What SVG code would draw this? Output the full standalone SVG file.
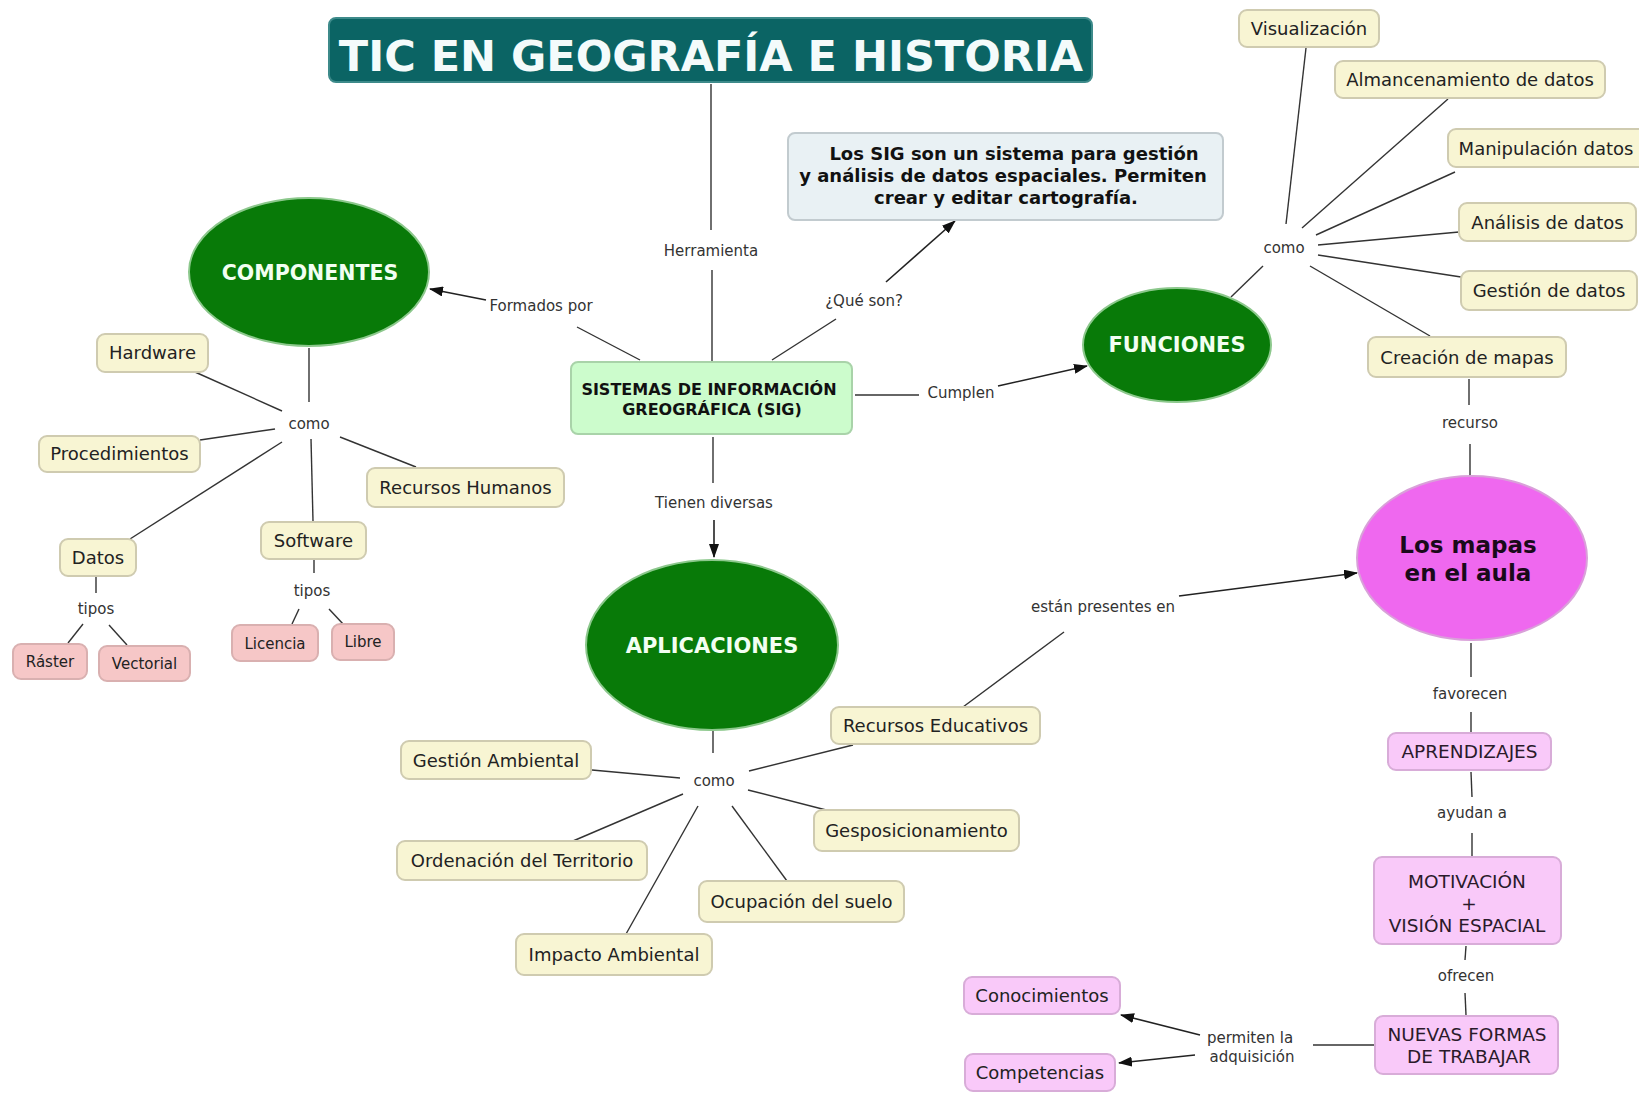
<svg xmlns="http://www.w3.org/2000/svg" width="1639" height="1094" viewBox="0 0 1639 1094">
<defs>
<style>
text{font-family:"DejaVu Sans","Liberation Sans",sans-serif;text-anchor:middle}
.y{fill:#f8f5d3;stroke:#cfcbb0;stroke-width:2}
.p{fill:#f6c7c7;stroke:#d9b0b0;stroke-width:2}
.m{fill:#f9c9f9;stroke:#d8acd8;stroke-width:2}
.g{fill:#087a08;stroke:#8cc88c;stroke-width:2}
.t{font-size:18px;fill:#222}
.ts{font-size:15px;fill:#222}
.tm{font-size:18.5px;fill:#2a1a2a}
.lk{font-size:15px;fill:#333}
.gt{font-size:21px;font-weight:bold;fill:#f2fff2}
.ln{stroke:#333;stroke-width:1.4;fill:none}
.ar{stroke:#222;stroke-width:1.6;fill:none;marker-end:url(#ah)}
</style>
<marker id="ah" viewBox="0 0 14 10" refX="13" refY="5" markerWidth="14" markerHeight="10" markerUnits="userSpaceOnUse" orient="auto">
<path d="M0,0 L14,5 L0,10 z" fill="#111"/>
</marker>
</defs>
<rect width="1639" height="1094" fill="#ffffff"/>

<g id="connectors">
<line class="ln" x1="711" y1="84" x2="711" y2="230"/>
<line class="ln" x1="712" y1="270" x2="712" y2="361"/>
<line class="ln" x1="640" y1="360" x2="577" y2="327"/>
<line class="ar" x1="486" y1="300" x2="430" y2="289"/>
<line class="ln" x1="772" y1="360" x2="836" y2="319"/>
<line class="ar" x1="886" y1="282" x2="955" y2="221"/>
<line class="ln" x1="855" y1="395" x2="919" y2="395"/>
<line class="ar" x1="998" y1="386" x2="1087" y2="366"/>
<line class="ln" x1="713" y1="437" x2="713" y2="483"/>
<line class="ar" x1="714" y1="520" x2="714" y2="557"/>
<line class="ln" x1="309" y1="348" x2="309" y2="402"/>
<line class="ln" x1="282" y1="411" x2="195" y2="372"/>
<line class="ln" x1="275" y1="429" x2="200" y2="440"/>
<line class="ln" x1="282" y1="442" x2="130" y2="539"/>
<line class="ln" x1="311" y1="439" x2="313" y2="521"/>
<line class="ln" x1="340" y1="437" x2="416" y2="467"/>
<line class="ln" x1="96" y1="577" x2="96" y2="593"/>
<line class="ln" x1="83" y1="624" x2="68" y2="643"/>
<line class="ln" x1="109" y1="625" x2="127" y2="645"/>
<line class="ln" x1="314" y1="560" x2="314" y2="573"/>
<line class="ln" x1="299" y1="609" x2="292" y2="624"/>
<line class="ln" x1="329" y1="609" x2="344" y2="625"/>
<line class="ln" x1="1231" y1="297" x2="1263" y2="266"/>
<line class="ln" x1="1286" y1="224" x2="1306" y2="48"/>
<line class="ln" x1="1302" y1="228" x2="1448" y2="99"/>
<line class="ln" x1="1316" y1="235" x2="1455" y2="172"/>
<line class="ln" x1="1318" y1="245" x2="1459" y2="232"/>
<line class="ln" x1="1318" y1="255" x2="1461" y2="277"/>
<line class="ln" x1="1310" y1="266" x2="1430" y2="336"/>
<line class="ln" x1="1469" y1="379" x2="1469" y2="405"/>
<line class="ln" x1="1470" y1="444" x2="1470" y2="477"/>
<line class="ln" x1="963" y1="707" x2="1064" y2="632"/>
<line class="ar" x1="1179" y1="596" x2="1357" y2="573"/>
<line class="ln" x1="713" y1="731" x2="713" y2="753"/>
<line class="ln" x1="680" y1="778" x2="592" y2="770"/>
<line class="ln" x1="749" y1="771" x2="853" y2="745"/>
<line class="ln" x1="683" y1="794" x2="573" y2="841"/>
<line class="ln" x1="698" y1="806" x2="626" y2="934"/>
<line class="ln" x1="732" y1="806" x2="787" y2="881"/>
<line class="ln" x1="748" y1="790" x2="830" y2="811"/>
<line class="ln" x1="1471" y1="643" x2="1471" y2="677"/>
<line class="ln" x1="1471" y1="712" x2="1471" y2="732"/>
<line class="ln" x1="1471" y1="772" x2="1472" y2="797"/>
<line class="ln" x1="1472" y1="833" x2="1472" y2="857"/>
<line class="ln" x1="1466" y1="946" x2="1465" y2="960"/>
<line class="ln" x1="1465" y1="993" x2="1466" y2="1015"/>
<line class="ln" x1="1374" y1="1045" x2="1313" y2="1045"/>
<line class="ar" x1="1200" y1="1035" x2="1121" y2="1015"/>
<line class="ar" x1="1195" y1="1055" x2="1119" y2="1063"/>
</g>

<g id="linking-phrases">
<text class="lk" x="711" y="256">Herramienta</text>
<text class="lk" x="541" y="311">Formados por</text>
<text class="lk" x="864" y="306">¿Qué son?</text>
<text class="lk" x="961" y="398">Cumplen</text>
<text class="lk" x="309" y="429">como</text>
<text class="lk" x="96" y="614">tipos</text>
<text class="lk" x="312" y="596">tipos</text>
<text class="lk" x="714" y="508">Tienen diversas</text>
<text class="lk" x="1284" y="253">como</text>
<text class="lk" x="1470" y="428">recurso</text>
<text class="lk" x="1103" y="612">están presentes en</text>
<text class="lk" x="714" y="786">como</text>
<text class="lk" x="1470" y="699">favorecen</text>
<text class="lk" x="1472" y="818">ayudan a</text>
<text class="lk" x="1466" y="981">ofrecen</text>
<text class="lk" x="1250" y="1043">permiten la</text>
<text class="lk" x="1252" y="1062">adquisición</text>
</g>

<g id="title">
<rect x="329" y="18" width="763" height="64" rx="7" fill="#0b6464" stroke="#3d8a8a" stroke-width="2"/>
<text x="711" y="71" style="font-size:43px;font-weight:bold;fill:#f4fbfb">TIC EN GEOGRAFÍA E HISTORIA</text>
</g>

<g id="definicion">
<rect x="788" y="133" width="435" height="87" rx="7" fill="#e9f1f4" stroke="#c2cbcf" stroke-width="2"/>
<text x="1014" y="160" style="font-size:18px;font-weight:bold;fill:#111">Los SIG son un sistema para gestión</text>
<text x="1003" y="182" style="font-size:18px;font-weight:bold;fill:#111">y análisis de datos espaciales. Permiten</text>
<text x="1006" y="204" style="font-size:18px;font-weight:bold;fill:#111">crear y editar cartografía.</text>
</g>

<g id="sig">
<rect x="571" y="362" width="281" height="72" rx="7" fill="#ccfccc" stroke="#a9d3a9" stroke-width="2"/>
<text x="709" y="395" style="font-size:16px;font-weight:bold;fill:#111">SISTEMAS DE INFORMACIÓN</text>
<text x="712" y="415" style="font-size:16px;font-weight:bold;fill:#111">GREOGRÁFICA (SIG)</text>
</g>

<g id="componentes">
<ellipse class="g" cx="309" cy="272" rx="120" ry="74"/>
<text class="gt" x="310" y="280" style="font-size:20.5px">COMPONENTES</text>
</g>
<g id="funciones">
<ellipse class="g" cx="1177" cy="345" rx="94" ry="57"/>
<text class="gt" x="1177" y="352">FUNCIONES</text>
</g>
<g id="aplicaciones">
<ellipse class="g" cx="712" cy="645" rx="126" ry="85"/>
<text class="gt" x="712" y="653">APLICACIONES</text>
</g>
<g id="mapas-aula">
<ellipse cx="1472" cy="558" rx="115" ry="82" fill="#ef68ef" stroke="#d9a0d9" stroke-width="2"/>
<text x="1468" y="553" style="font-size:23px;font-weight:bold;fill:#1a0a1a">Los mapas</text>
<text x="1468" y="581" style="font-size:23px;font-weight:bold;fill:#1a0a1a">en el aula</text>
</g>

<g id="hardware"><rect class="y" x="97" y="334" width="111" height="38" rx="8"/><text class="t" x="152.5" y="359">Hardware</text></g>
<g id="procedimientos"><rect class="y" x="39" y="436" width="161" height="36" rx="8"/><text class="t" x="119.5" y="460">Procedimientos</text></g>
<g id="recursos-humanos"><rect class="y" x="367" y="468" width="197" height="39" rx="8"/><text class="t" x="465.5" y="494">Recursos Humanos</text></g>
<g id="datos"><rect class="y" x="60" y="539" width="76" height="37" rx="8"/><text class="t" x="98" y="564">Datos</text></g>
<g id="software"><rect class="y" x="261" y="522" width="105" height="37" rx="8"/><text class="t" x="313.5" y="547">Software</text></g>
<g id="raster"><rect class="p" x="13" y="644" width="74" height="35" rx="8"/><text class="ts" x="50" y="667">Ráster</text></g>
<g id="vectorial"><rect class="p" x="99" y="646" width="91" height="35" rx="8"/><text class="ts" x="144.5" y="669">Vectorial</text></g>
<g id="licencia"><rect class="p" x="232" y="625" width="86" height="36" rx="8"/><text class="ts" x="275" y="649">Licencia</text></g>
<g id="libre"><rect class="p" x="332" y="624" width="62" height="36" rx="8"/><text class="ts" x="363" y="647">Libre</text></g>

<g id="visualizacion"><rect class="y" x="1239" y="10" width="140" height="37" rx="8"/><text class="t" x="1309" y="35">Visualización</text></g>
<g id="almacenamiento"><rect class="y" x="1335" y="61" width="270" height="37" rx="8"/><text class="t" x="1470" y="86">Almancenamiento de datos</text></g>
<g id="manipulacion"><rect class="y" x="1448" y="129" width="200" height="38" rx="8"/><text class="t" x="1546" y="155">Manipulación datos</text></g>
<g id="analisis"><rect class="y" x="1459" y="203" width="177" height="38" rx="8"/><text class="t" x="1547.5" y="229">Análisis de datos</text></g>
<g id="gestion-datos"><rect class="y" x="1461" y="271" width="176" height="39" rx="8"/><text class="t" x="1549" y="297">Gestión de datos</text></g>
<g id="creacion-mapas"><rect class="y" x="1368" y="337" width="198" height="40" rx="8"/><text class="t" x="1467" y="364">Creación de mapas</text></g>

<g id="recursos-educativos"><rect class="y" x="831" y="707" width="209" height="37" rx="8"/><text class="t" x="935.5" y="732">Recursos Educativos</text></g>
<g id="gestion-ambiental"><rect class="y" x="401" y="741" width="190" height="38" rx="8"/><text class="t" x="496" y="767">Gestión Ambiental</text></g>
<g id="geoposicionamiento"><rect class="y" x="814" y="810" width="205" height="41" rx="8"/><text class="t" x="916.5" y="837">Gesposicionamiento</text></g>
<g id="ordenacion"><rect class="y" x="397" y="841" width="250" height="39" rx="8"/><text class="t" x="522" y="867">Ordenación del Territorio</text></g>
<g id="ocupacion"><rect class="y" x="699" y="881" width="205" height="41" rx="8"/><text class="t" x="801.5" y="908">Ocupación del suelo</text></g>
<g id="impacto"><rect class="y" x="516" y="934" width="196" height="41" rx="8"/><text class="t" x="614" y="961">Impacto Ambiental</text></g>

<g id="aprendizajes"><rect class="m" x="1388" y="733" width="163" height="37" rx="8"/><text class="tm" x="1469.5" y="758">APRENDIZAJES</text></g>
<g id="motivacion"><rect class="m" x="1374" y="857" width="187" height="87" rx="8"/>
<text class="tm" x="1467" y="888">MOTIVACIÓN</text>
<text class="tm" x="1469" y="910">+</text>
<text class="tm" x="1467" y="932">VISIÓN ESPACIAL</text></g>
<g id="nuevas-formas"><rect class="m" x="1375" y="1016" width="183" height="58" rx="8"/>
<text class="tm" x="1467" y="1041">NUEVAS FORMAS</text>
<text class="tm" x="1469" y="1063">DE TRABAJAR</text></g>
<g id="conocimientos"><rect class="m" x="964" y="977" width="156" height="37" rx="8"/><text class="t" x="1042" y="1002">Conocimientos</text></g>
<g id="competencias"><rect class="m" x="965" y="1054" width="150" height="37" rx="8"/><text class="t" x="1040" y="1079">Competencias</text></g>
</svg>
